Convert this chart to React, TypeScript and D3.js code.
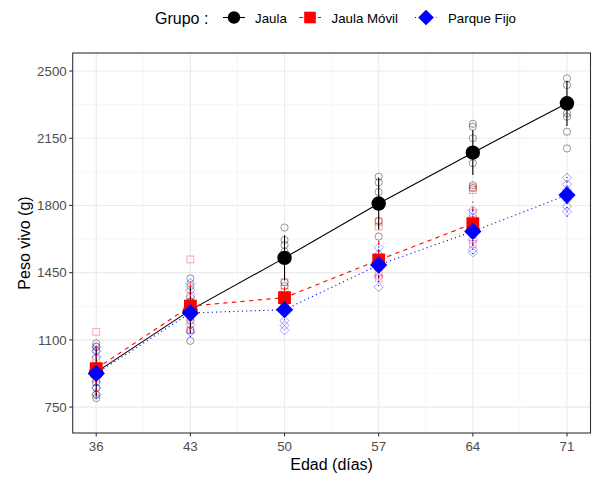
import React from "react";
import * as d3 from "d3";

const ages = [36, 43, 50, 57, 64, 71];
const groups = ["Jaula", "Jaula Móvil", "Parque Fijo"];
const yTicks = [750, 1100, 1450, 1800, 2150, 2500];
const yMinor = [925, 1275, 1625, 1975, 2325];
const xMinor = [39.5, 46.5, 53.5, 60.5, 67.5];

// group means (null = not measured)
const meanJaula = [932, 1255, 1527, 1810, 2075, 2332];
const meanMovil: (number | null)[] = [950, 1276, 1320, 1516, 1705, null];
const meanFijo = [925, 1240, 1257, 1490, 1665, 1854];

// standard deviations
const sdJaula = [128, 120, 118, 135, 117, 118];
const sdMovil: (number | null)[] = [125, 130, 55, 100, 115, null];
const sdFijo = [130, 125, 55, 110, 118, 113];

// individual weights per age
const indJaula = [
  [1082, 1065, 1045, 850, 815, 797],
  [1420, 1380, 1300, 1200, 1150, 1095],
  [1685, 1620, 1595, 1560, 1400, 1380],
  [1950, 1920, 1870, 1800, 1720, 1638],
  [2225, 2210, 2150, 2020, 1905, 1890],
  [2462, 2427, 2280, 2262, 2184, 2097],
];
const indMovil = [
  [1142, 1000, 960, 930, 900, 880],
  [1519, 1330, 1290, 1250, 1220, 1150],
  [1400, 1350, 1320, 1300, 1280, 1260],
  [1715, 1690, 1530, 1480, 1450, 1420],
  [1895, 1880, 1760, 1700, 1650, 1600],
  [],
];
const indFijo = [
  [1063, 1040, 1010, 880, 850, 815],
  [1395, 1360, 1323, 1222, 1180, 1141],
  [1290, 1260, 1240, 1200, 1175, 1150],
  [1580, 1545, 1510, 1470, 1430, 1375],
  [1775, 1740, 1700, 1620, 1570, 1555],
  [1945, 1910, 1880, 1830, 1795, 1768],
];

const colors = ["#000000", "#FF0000", "#0000FF"];
const dashes = ["none", "4.3 4.3", "1.1 3.2"];
const FONT = "'Liberation Sans', Arial, sans-serif";

const PL = 72.7, PR = 590.5, PT = 53, PB = 433;

function Shape({ kind, cx, cy, size, fill, stroke, sw, opacity }: any) {
  if (kind === 0) return <circle cx={cx} cy={cy} r={size} fill={fill} stroke={stroke} strokeWidth={sw} opacity={opacity} />;
  if (kind === 1) return <rect x={cx - size} y={cy - size} width={size * 2} height={size * 2} fill={fill} stroke={stroke} strokeWidth={sw} opacity={opacity} />;
  const s = size * 1.35;
  return <path d={`M${cx},${cy - s}L${cx + s},${cy}L${cx},${cy + s}L${cx - s},${cy}Z`} fill={fill} stroke={stroke} strokeWidth={sw} opacity={opacity} />;
}

export default function App() {
  const x = d3.scaleLinear().domain([34.25, 72.75]).range([PL, PR]);
  const y = d3.scaleLinear().domain([615, 2594]).range([PB, PT]);
  const means = [meanJaula, meanMovil, meanFijo];
  const sds = [sdJaula, sdMovil, sdFijo];
  const inds = [indJaula, indMovil, indFijo];
  const line = d3
    .line<[number, number | null]>()
    .defined((d) => d[1] != null)
    .x((d) => x(d[0]))
    .y((d) => y(d[1] as number));

  const legendItems = [
    { key: 234, text: 255 },
    { key: 310, text: 331.5 },
    { key: 426, text: 448 },
  ];

  return (
    <svg width={592} height={477} style={{ position: "absolute", left: 0, top: 0, background: "#fff" }} fontFamily={FONT}>
      <rect x={0} y={0} width={592} height={477} fill="#fff" />
      {/* grid */}
      {yMinor.map((v) => (
        <line key={"ym" + v} x1={PL} x2={PR} y1={y(v)} y2={y(v)} stroke="#F2F2F2" strokeWidth={0.6} />
      ))}
      {xMinor.map((v) => (
        <line key={"xm" + v} x1={x(v)} x2={x(v)} y1={PT} y2={PB} stroke="#F2F2F2" strokeWidth={0.6} />
      ))}
      {yTicks.map((v) => (
        <line key={"yM" + v} x1={PL} x2={PR} y1={y(v)} y2={y(v)} stroke="#EBEBEB" strokeWidth={1.1} />
      ))}
      {ages.map((v) => (
        <line key={"xM" + v} x1={x(v)} x2={x(v)} y1={PT} y2={PB} stroke="#EBEBEB" strokeWidth={1.1} />
      ))}

      {/* individuals */}
      {inds.map((g, gi) =>
        g.map((vals, ai) =>
          vals.map((v, k) => (
            <Shape key={`i${gi}-${ai}-${k}`} kind={gi} cx={x(ages[ai])} cy={y(v)} size={gi === 0 ? 3.6 : 3.4}
              fill="none" stroke={gi === 0 ? "#000" : colors[gi]} sw={1} opacity={gi === 0 ? 0.4 : 0.35} />
          ))
        )
      )}

      {/* error bars */}
      {means.map((m, gi) =>
        ages.map((a, ai) => {
          const mv = m[ai];
          const sd = sds[gi][ai];
          if (mv == null || sd == null) return null;
          return (
            <line key={`e${gi}-${ai}`} x1={x(a)} x2={x(a)} y1={y(mv - sd)} y2={y(mv + sd)}
              stroke={colors[gi]} strokeWidth={1.1} strokeDasharray={dashes[gi]} />
          );
        })
      )}

      {/* lines */}
      {means.map((m, gi) => (
        <path key={"l" + gi} d={line(ages.map((a, i) => [a, m[i]]))!} fill="none" stroke={colors[gi]}
          strokeWidth={1.1} strokeDasharray={dashes[gi]} />
      ))}

      {/* mean points */}
      {means.map((m, gi) =>
        ages.map((a, ai) =>
          m[ai] == null ? null : (
            <Shape key={`m${gi}-${ai}`} kind={gi} cx={x(a)} cy={y(m[ai] as number)} size={gi === 0 ? 7.2 : 6.4}
              fill={colors[gi]} stroke="none" sw={0} opacity={1} />
          )
        )
      )}

      {/* panel border */}
      <rect x={PL} y={PT} width={PR - PL} height={PB - PT} fill="none" stroke="#333333" strokeWidth={1.1} />

      {/* axes */}
      {yTicks.map((v) => (
        <g key={"yt" + v}>
          <line x1={PL - 3.5} x2={PL} y1={y(v)} y2={y(v)} stroke="#333333" strokeWidth={1.1} />
          <text x={PL - 6} y={y(v)} dy="0.35em" textAnchor="end" fontSize={13.3} fill="#4D4D4D">{v}</text>
        </g>
      ))}
      {ages.map((v) => (
        <g key={"xt" + v}>
          <line x1={x(v)} x2={x(v)} y1={PB} y2={PB + 3.5} stroke="#333333" strokeWidth={1.1} />
          <text x={x(v)} y={PB + 18} textAnchor="middle" fontSize={13.3} fill="#4D4D4D">{v}</text>
        </g>
      ))}
      <text x={(PL + PR) / 2} y={470} textAnchor="middle" fontSize={16} fill="#000">Edad (días)</text>
      <text transform={`translate(24,${(PT + PB) / 2}) rotate(-90)`} textAnchor="middle" dy="0.35em" fontSize={16} fill="#000">Peso vivo (g)</text>

      {/* legend */}
      <text x={155} y={23.5} fontSize={16} fill="#000">Grupo :</text>
      {groups.map((g, gi) => (
        <g key={"lg" + g}>
          <line x1={legendItems[gi].key - 11} x2={legendItems[gi].key + 11} y1={17.5} y2={17.5} stroke={colors[gi]}
            strokeWidth={1.1} strokeDasharray={gi === 0 ? "none" : gi === 1 ? "4.3 2" : "1.1 3.2"} />
          <Shape kind={gi} cx={legendItems[gi].key} cy={17.5} size={gi === 0 ? 6.2 : 5.8} fill={colors[gi]} stroke="none" sw={0} opacity={1} />
          <text x={legendItems[gi].text} y={22.5} fontSize={13.3} fill="#000">{g}</text>
        </g>
      ))}
    </svg>
  );
}
